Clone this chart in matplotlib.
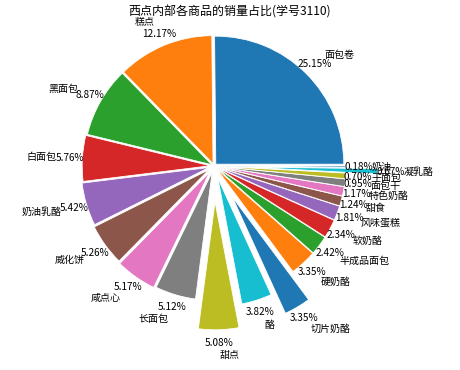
import matplotlib
matplotlib.use('Agg')
import matplotlib.pyplot as plt

plt.rcParams['font.family'] = ['Noto Sans CJK SC', 'DejaVu Sans']
plt.rcParams['axes.unicode_minus'] = False

# 各商品名称和销量占比(%)
goods = ['面包卷', '糕点', '黑面包', '白面包', '奶油乳酪', '威化饼', '咸点心',
         '长面包', '甜点', '酪', '切片奶酪', '硬奶酪', '半成品面包', '软奶酪',
         '风味蛋糕', '甜食', '特色奶酪', '面包干', '干面包', '凝乳酪', '奶油']
share = [25.15, 12.17, 8.87, 5.76, 5.42, 5.26, 5.17,
         5.12, 5.08, 3.82, 3.35, 3.35, 2.42, 2.34,
         1.81, 1.24, 1.17, 0.95, 0.70, 0.67, 0.18]
explode = [0.02, 0.02, 0.02, 0.03, 0.04, 0.05, 0.06,
           0.05, 0.28, 0.1, 0.28, 0.03, 0.03, 0.03,
           0.03, 0.03, 0.03, 0.03, 0.03, 0.28, 0.03]

W, H = 460, 370
cx, cy, R = 214, 166, 128

fig = plt.figure(figsize=(W / 72, H / 72), dpi=72)
ax = fig.add_axes([0, 0, 1, 1])
ax.pie(share, labels=goods, explode=explode, autopct='%.2f%%',
       labeldistance=1.2, pctdistance=1.1,
       wedgeprops={'edgecolor': 'white', 'linewidth': 0.8},
       textprops={'fontsize': 10})
ax.set_xlim(-cx / R, (W - cx) / R)
ax.set_ylim(-(H - cy) / R, cy / R)
fig.text(0.5, 1 - 12 / H, '西点内部各商品的销量占比(学号3110)',
         ha='center', va='center', fontsize=12)

plt.savefig('out.png', dpi=72)
